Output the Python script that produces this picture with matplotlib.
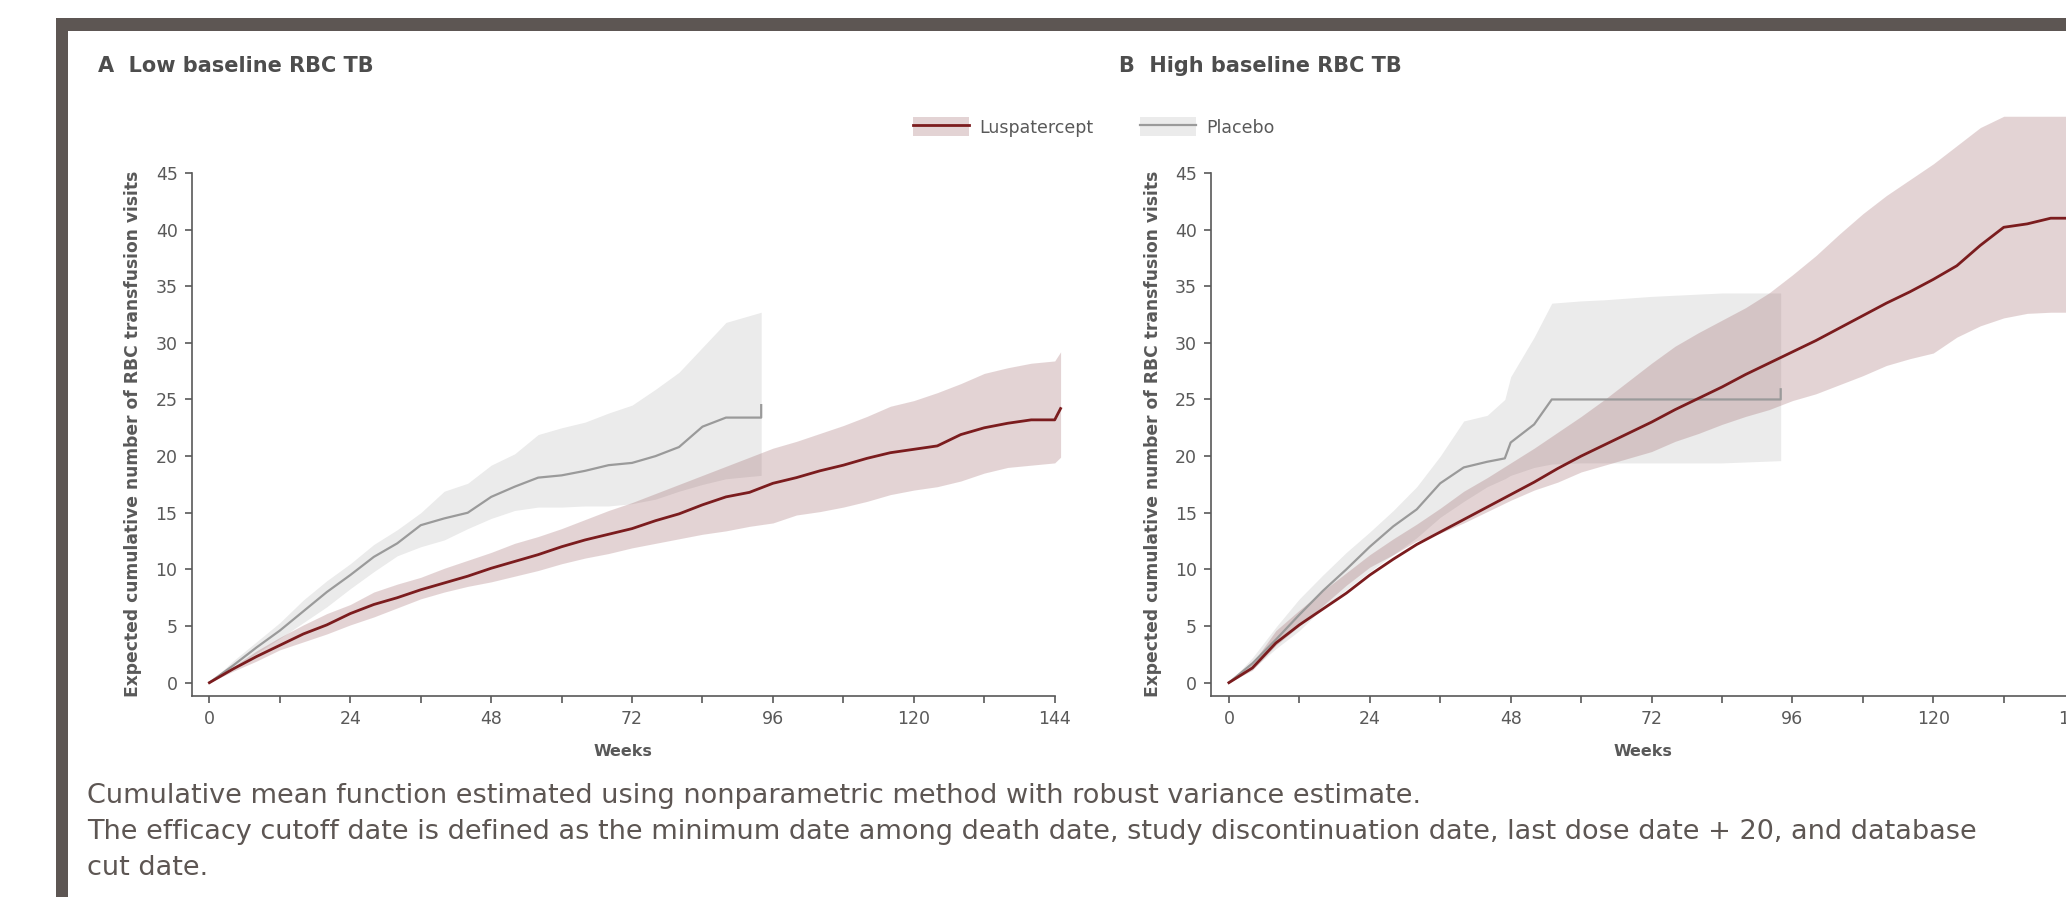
import numpy as np
import matplotlib.pyplot as plt
from matplotlib.patches import Patch, Rectangle
from matplotlib.lines import Line2D
from matplotlib.ticker import MultipleLocator

# ---- data (weeks / expected cumulative visits) ----
# A: low baseline RBC TB
a_pbo_wk  = [0, 4, 8, 12, 16, 20, 24, 28, 32, 36, 40, 44, 48, 52, 56, 60, 64, 68, 72, 76, 80, 84, 88, 92, 94, 94]
a_pbo_mid = [0, 1.5, 3.1, 4.6, 6.3, 8.0, 9.5, 11.1, 12.3, 13.9, 14.5, 15.0, 16.4, 17.3, 18.1, 18.3, 18.7, 19.2, 19.4, 20.0, 20.8, 22.6, 23.4, 23.4, 23.4, 24.5]
a_pbo_hi  = [0, 1.9, 3.6, 5.3, 7.3, 9.0, 10.5, 12.2, 13.5, 15.0, 16.9, 17.6, 19.2, 20.2, 21.9, 22.5, 23.0, 23.8, 24.5, 25.9, 27.4, 29.6, 31.8, 32.4, 32.7, 32.7]
a_pbo_lo  = [0, 1.2, 2.6, 3.9, 5.3, 6.7, 8.3, 9.8, 11.2, 12.0, 12.6, 13.6, 14.5, 15.2, 15.5, 15.5, 15.6, 15.6, 15.8, 16.2, 16.9, 17.5, 18.0, 18.2, 18.3, 18.3]

a_lus_wk  = [0, 4, 8, 12, 16, 20, 24, 28, 32, 36, 40, 44, 48, 52, 56, 60, 64, 68, 72, 76, 80, 84, 88, 92,
             96, 100, 104, 108, 112, 116, 120, 124, 128, 132, 136, 140, 144, 145]
a_lus_mid = [0, 1.2, 2.3, 3.3, 4.3, 5.1, 6.1, 6.9, 7.5, 8.2, 8.8, 9.4, 10.1, 10.7, 11.3, 12.0, 12.6, 13.1, 13.6, 14.3, 14.9, 15.7, 16.4, 16.8,
             17.6, 18.1, 18.7, 19.2, 19.8, 20.3, 20.6, 20.9, 21.9, 22.5, 22.9, 23.2, 23.2, 24.2]
a_lus_hi  = [0, 1.4, 2.8, 4.0, 5.1, 6.1, 6.9, 8.0, 8.7, 9.3, 10.1, 10.8, 11.5, 12.3, 12.9, 13.6, 14.4, 15.2, 15.9, 16.7, 17.5, 18.3, 19.1, 19.9,
             20.7, 21.3, 22.0, 22.7, 23.5, 24.4, 24.9, 25.6, 26.4, 27.3, 27.8, 28.2, 28.4, 29.2]
a_lus_lo  = [0, 1.0, 1.9, 2.9, 3.6, 4.3, 5.1, 5.8, 6.6, 7.4, 8.0, 8.5, 8.9, 9.4, 9.9, 10.5, 11.0, 11.4, 11.9, 12.3, 12.7, 13.1, 13.4, 13.8,
             14.1, 14.8, 15.1, 15.5, 16.0, 16.6, 17.0, 17.3, 17.8, 18.5, 19.0, 19.2, 19.4, 19.9]

# B: high baseline RBC TB
b_pbo_wk  = [0, 4, 8, 12, 16, 20, 24, 28, 32, 36, 40, 44, 47, 48, 52, 55, 60, 64, 72, 84, 94, 94]
b_pbo_mid = [0, 1.7, 3.8, 6.0, 8.1, 10.0, 12.0, 13.8, 15.3, 17.6, 19.0, 19.5, 19.8, 21.2, 22.8, 25.0, 25.0, 25.0, 25.0, 25.0, 25.0, 25.9]
b_pbo_hi  = [0, 2.2, 4.9, 7.4, 9.5, 11.5, 13.3, 15.2, 17.3, 20.0, 23.1, 23.6, 25.0, 27.0, 30.5, 33.5, 33.7, 33.8, 34.1, 34.4, 34.4, 34.4]
b_pbo_lo  = [0, 1.2, 3.0, 4.6, 6.6, 8.2, 9.8, 11.3, 12.8, 14.6, 16.0, 17.3, 18.0, 18.3, 19.0, 19.3, 19.4, 19.4, 19.4, 19.4, 19.6, 19.6]

b_lus_wk  = [0, 4, 8, 12, 16, 20, 24, 28, 32, 36, 40, 44, 48, 52, 56, 60, 64, 68, 72, 76, 80, 84, 88, 92,
             96, 100, 104, 108, 112, 116, 120, 124, 128, 132, 136, 140, 144, 147]
b_lus_mid = [0, 1.3, 3.5, 5.1, 6.5, 7.9, 9.5, 10.9, 12.2, 13.3, 14.4, 15.5, 16.6, 17.7, 18.9, 20.0, 21.0, 22.0, 23.0, 24.1, 25.1, 26.1, 27.2, 28.2,
             29.2, 30.2, 31.3, 32.4, 33.5, 34.5, 35.6, 36.8, 38.6, 40.2, 40.5, 41.0, 41.0, 41.0]
b_lus_hi  = [0, 1.7, 4.6, 6.4, 8.1, 9.7, 11.3, 12.7, 14.0, 15.4, 16.9, 18.1, 19.4, 20.7, 22.1, 23.5, 25.0, 26.6, 28.2, 29.7, 30.9, 32.0, 33.1, 34.4,
             36.0, 37.7, 39.6, 41.4, 43.0, 44.4, 45.8, 47.4, 49.0, 50.0, 50.0, 50.0, 50.0, 50.0]
b_lus_lo  = [0, 1.1, 3.3, 5.0, 6.8, 8.6, 10.2, 11.3, 12.5, 13.2, 14.1, 15.1, 16.1, 17.0, 17.7, 18.6, 19.2, 19.8, 20.4, 21.3, 22.0, 22.8, 23.5, 24.1,
             24.9, 25.5, 26.3, 27.1, 28.0, 28.6, 29.1, 30.5, 31.5, 32.2, 32.6, 32.7, 32.7, 32.7]

panel_titles = ["A  Low baseline RBC TB", "B  High baseline RBC TB"]
labels = ["Luspatercept", "Placebo"]
ylab = "Expected cumulative number of RBC transfusion visits"
notes = ["Cumulative mean function estimated using nonparametric method with robust variance estimate.",
         "The efficacy cutoff date is defined as the minimum date among death date, study discontinuation date, last dose date + 20, and database",
         "cut date."]

# ---- style ----
RED = "#7b1c1e"
RED_BAND = "#935357"
GRAY = "#9a9a9a"
GRAY_BAND = "#ebebeb"
TXT = "#595959"
FRAME = "#5d5653"

plt.rcParams['font.family'] = ['DejaVu Sans']

W, H = 2066, 897
fig = plt.figure(figsize=(W / 100, H / 100), dpi=100)

# frame bars (top + left)
fig.add_artist(Rectangle((56 / W, 1 - 31 / H), 1, 13 / H, transform=fig.transFigure, color=FRAME, lw=0))
fig.add_artist(Rectangle((56 / W, 0), 12 / W, 1 - 18 / H, transform=fig.transFigure, color=FRAME, lw=0))

ax_w = 863.2 / W
ax_b = 1 - 695.7 / H
ax_h = (695.7 - 172.9) / H
axA = fig.add_axes([191.5 / W, ax_b, ax_w, ax_h])
axB = fig.add_axes([1211 / W, ax_b, ax_w, ax_h])

panels = [
    (axA, a_pbo_wk, a_pbo_mid, a_pbo_lo, a_pbo_hi, a_lus_wk, a_lus_mid, a_lus_lo, a_lus_hi),
    (axB, b_pbo_wk, b_pbo_mid, b_pbo_lo, b_pbo_hi, b_lus_wk, b_lus_mid, b_lus_lo, b_lus_hi),
]

for i, (ax, pw, pm, pl, ph, lw_, lm, ll, lh) in enumerate(panels):
    ax.fill_between(pw, pl, ph, color=GRAY_BAND, lw=0, clip_on=False, zorder=1)
    ax.fill_between(lw_, ll, lh, color=RED_BAND, alpha=0.25, lw=0, clip_on=False, zorder=2)
    ax.plot(pw, pm, color=GRAY, lw=1.6, clip_on=False, zorder=3)
    ax.plot(lw_, lm, color=RED, lw=2.0, clip_on=False, zorder=4)

    ax.set_xlim(-3.05, 144)
    ax.set_ylim(-1.15, 45)
    ax.xaxis.set_major_locator(MultipleLocator(24))
    ax.xaxis.set_minor_locator(MultipleLocator(12))
    ax.yaxis.set_major_locator(MultipleLocator(5))
    for s in ["top", "right"]:
        ax.spines[s].set_visible(False)
    for s in ["left", "bottom"]:
        ax.spines[s].set_color(TXT)
        ax.spines[s].set_linewidth(1.2)
    ax.tick_params(which="both", length=5, width=1.2, color=TXT, labelcolor=TXT,
                   labelsize=12.5, pad=5)
    ax.set_facecolor("none")
    ax.set_xlabel("Weeks", fontsize=11.5, fontweight="bold", color=TXT, labelpad=12)
    ax.set_ylabel(ylab, fontsize=12.3, fontweight="bold", color=TXT)
    ax.yaxis.set_label_coords(-0.0573, 0.5)

fig.text(98 / W, 1 - 66 / H, panel_titles[0], fontsize=15, fontweight="bold", color="#4d4d4d", va="center")
fig.text(1119 / W, 1 - 66 / H, panel_titles[1], fontsize=15, fontweight="bold", color="#4d4d4d", va="center")

handles = [
    (Patch(facecolor=RED_BAND, alpha=0.25, lw=0), Line2D([], [], color=RED, lw=2)),
    (Patch(facecolor=GRAY_BAND, lw=0), Line2D([], [], color=GRAY, lw=1.6)),
]
leg = fig.legend(handles, labels, ncol=2, loc="center", bbox_to_anchor=(1094 / W, 1 - 127 / H),
                 frameon=False, handlelength=3.2, handleheight=1.3, handletextpad=0.6,
                 columnspacing=2.7, fontsize=12.5)
for t in leg.get_texts():
    t.set_color(TXT)

for k, line in enumerate(notes):
    fig.text(87 / W, 1 - (796 + 36 * k) / H, line, fontsize=19.5, color=FRAME, va="center")

fig.savefig("out.png", dpi=100)
